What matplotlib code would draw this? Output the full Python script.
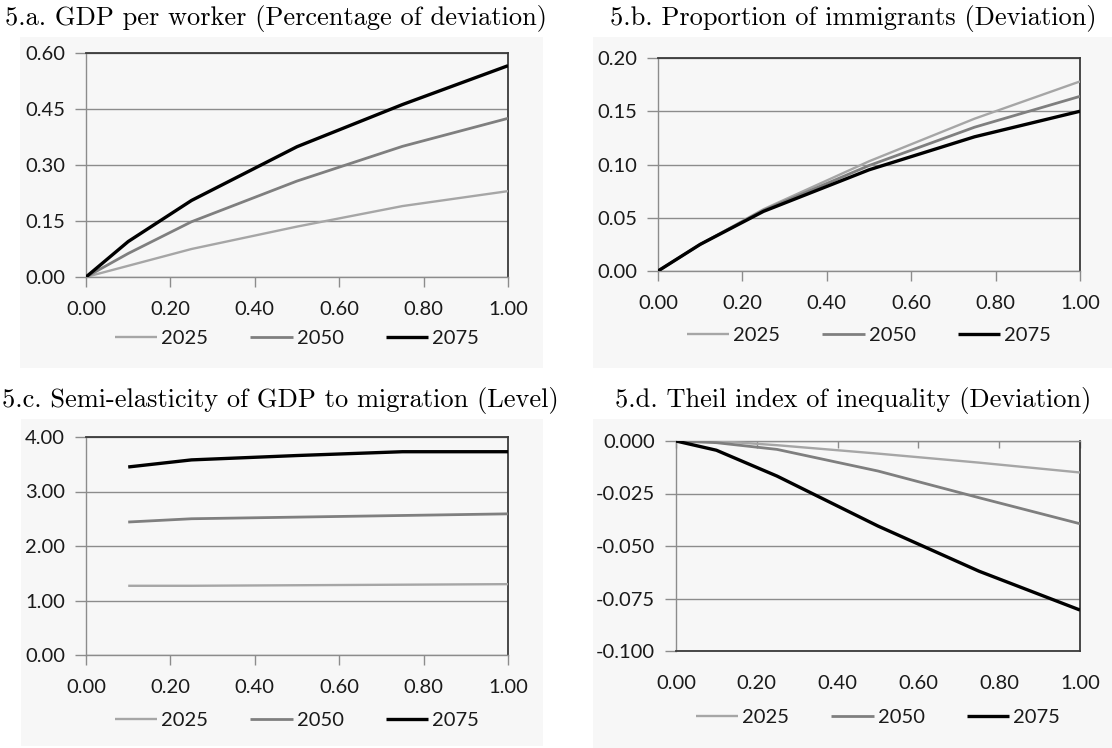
import numpy as np
import matplotlib
matplotlib.use("Agg")
import matplotlib.pyplot as plt
from matplotlib.patches import Rectangle
from matplotlib.ticker import FormatStrFormatter

plt.rcParams['font.family'] = ['Lato', 'DejaVu Sans']
plt.rcParams['axes.unicode_minus'] = False

# migration shock size (x axis), same for all panels
shock = [0.0, 0.1, 0.25, 0.5, 0.75, 1.0]
shock_c = [0.1, 0.25, 0.5, 0.75, 1.0]
years = ['2025', '2050', '2075']

gdp_2025 = [0.0, 0.030, 0.075, 0.135, 0.190, 0.230]
gdp_2050 = [0.0, 0.063, 0.148, 0.257, 0.350, 0.425]
gdp_2075 = [0.0, 0.095, 0.205, 0.349, 0.462, 0.566]

imm_2025 = [0.0, 0.025, 0.058, 0.103, 0.143, 0.178]
imm_2050 = [0.0, 0.025, 0.057, 0.099, 0.135, 0.164]
imm_2075 = [0.0, 0.025, 0.056, 0.095, 0.126, 0.150]

semi_2025 = [1.27, 1.27, 1.28, 1.29, 1.30]
semi_2050 = [2.44, 2.50, 2.53, 2.56, 2.59]
semi_2075 = [3.45, 3.58, 3.66, 3.73, 3.73]

theil_2025 = [0.0, 0.0, -0.002, -0.006, -0.0103, -0.015]
theil_2050 = [0.0, -0.0008, -0.004, -0.0143, -0.027, -0.0394]
theil_2075 = [0.0, -0.0044, -0.0167, -0.0405, -0.062, -0.0805]

titles = ['5.a. GDP per worker (Percentage of deviation)',
          '5.b. Proportion of immigrants (Deviation)',
          '5.c. Semi-elasticity of GDP to migration (Level)',
          '5.d. Theil index of inequality (Deviation)']

W, H = 1112, 748
fig = plt.figure(figsize=(W / 100, H / 100), dpi=100)

def px_axes(x0, x1, y0, y1):
    return fig.add_axes([x0 / W, 1 - y1 / H, (x1 - x0) / W, (y1 - y0) / H])

def px_box(x0, x1, y0, y1):
    fig.patches.append(Rectangle((x0 / W, 1 - y1 / H), (x1 - x0) / W, (y1 - y0) / H,
                                 transform=fig.transFigure, facecolor='#f7f7f7',
                                 edgecolor='none', zorder=-5))

px_box(20, 543, 37, 368)
px_box(593, 1112, 37, 368)
px_box(21, 543, 419, 746)
px_box(593, 1112, 419, 748)

fig.text(276 / W, 1 - 18 / H, titles[0], family='cmr10', fontsize=19, ha='center', va='center')
fig.text(853 / W, 1 - 18 / H, titles[1], family='cmr10', fontsize=19, ha='center', va='center')
fig.text(280 / W, 1 - 401 / H, titles[2], family='cmr10', fontsize=19, ha='center', va='center')
fig.text(853 / W, 1 - 401 / H, titles[3], family='cmr10', fontsize=19, ha='center', va='center')

ax1 = px_axes(86, 508, 53, 277)
ax2 = px_axes(658, 1080, 58, 271)
ax3 = px_axes(86, 508, 437, 655)
ax4 = px_axes(676, 1080, 441, 651)

colors = ['#a6a6a6', '#7f7f7f', '#000000']
widths = [1.7, 2.0, 2.4]
grid_c = '#8c8c8c'
border_c = '#3a3a3a'
lab_c = '#1a1a1a'

panels = [
    (ax1, shock, [gdp_2025, gdp_2050, gdp_2075], (0, 0.60), [0.0, 0.15, 0.30, 0.45, 0.60], '%.2f', 338),
    (ax2, shock, [imm_2025, imm_2050, imm_2075], (0, 0.20), [0.0, 0.05, 0.10, 0.15, 0.20], '%.2f', 335),
    (ax3, shock_c, [semi_2025, semi_2050, semi_2075], (0, 4.0), [0.0, 1.0, 2.0, 3.0, 4.0], '%.2f', 720),
    (ax4, shock, [theil_2025, theil_2050, theil_2075], (-0.100, 0), [-0.100, -0.075, -0.050, -0.025, 0.0], '%.3f', 717),
]

for ax, xs, series, ylim, yticks, fmt, leg_y in panels:
    ax.set_facecolor('none')
    for s, yr, c, lw in zip(series, years, colors, widths):
        ax.plot(xs, s, color=c, lw=lw, label=yr, solid_capstyle='butt', zorder=3)
    ax.set_xlim(0, 1)
    ax.set_ylim(*ylim)
    ax.set_xticks([0.0, 0.2, 0.4, 0.6, 0.8, 1.0])
    ax.set_yticks(yticks)
    ax.xaxis.set_major_formatter(FormatStrFormatter('%.2f'))
    ax.yaxis.set_major_formatter(FormatStrFormatter(fmt))
    ax.grid(axis='y', color=grid_c, lw=1.0, zorder=1)
    ax.tick_params(axis='y', length=8, width=1, color=grid_c, pad=7, labelsize=14.5,
                   labelcolor=lab_c)
    ax.tick_params(axis='x', length=7, width=1, color=grid_c, pad=10, labelsize=14.5,
                   labelcolor=lab_c)
    for side in ['top', 'right']:
        ax.spines[side].set_color(border_c)
        ax.spines[side].set_linewidth(1.3)
    for side in ['left', 'bottom']:
        ax.spines[side].set_color(grid_c)
        ax.spines[side].set_linewidth(1.0)
    bottom_frac = ax.get_position().y0
    height_frac = ax.get_position().height
    anchor_y = (1 - leg_y / H - bottom_frac) / height_frac
    ax.legend(loc='center', bbox_to_anchor=(0.5, anchor_y), ncol=3, frameon=False,
              fontsize=14.5, handlelength=2.1, handletextpad=0.2, columnspacing=2.1,
              labelcolor=lab_c)

# panel d: category axis sits at zero (top), labels at bottom
ax4.spines['top'].set_color(grid_c)
ax4.spines['top'].set_linewidth(1.0)
ax4.spines['bottom'].set_color(border_c)
ax4.spines['bottom'].set_linewidth(1.3)
ax4.tick_params(axis='x', top=True, bottom=False, direction='in', length=5, pad=17)

fig.savefig('out.png', dpi=100)
